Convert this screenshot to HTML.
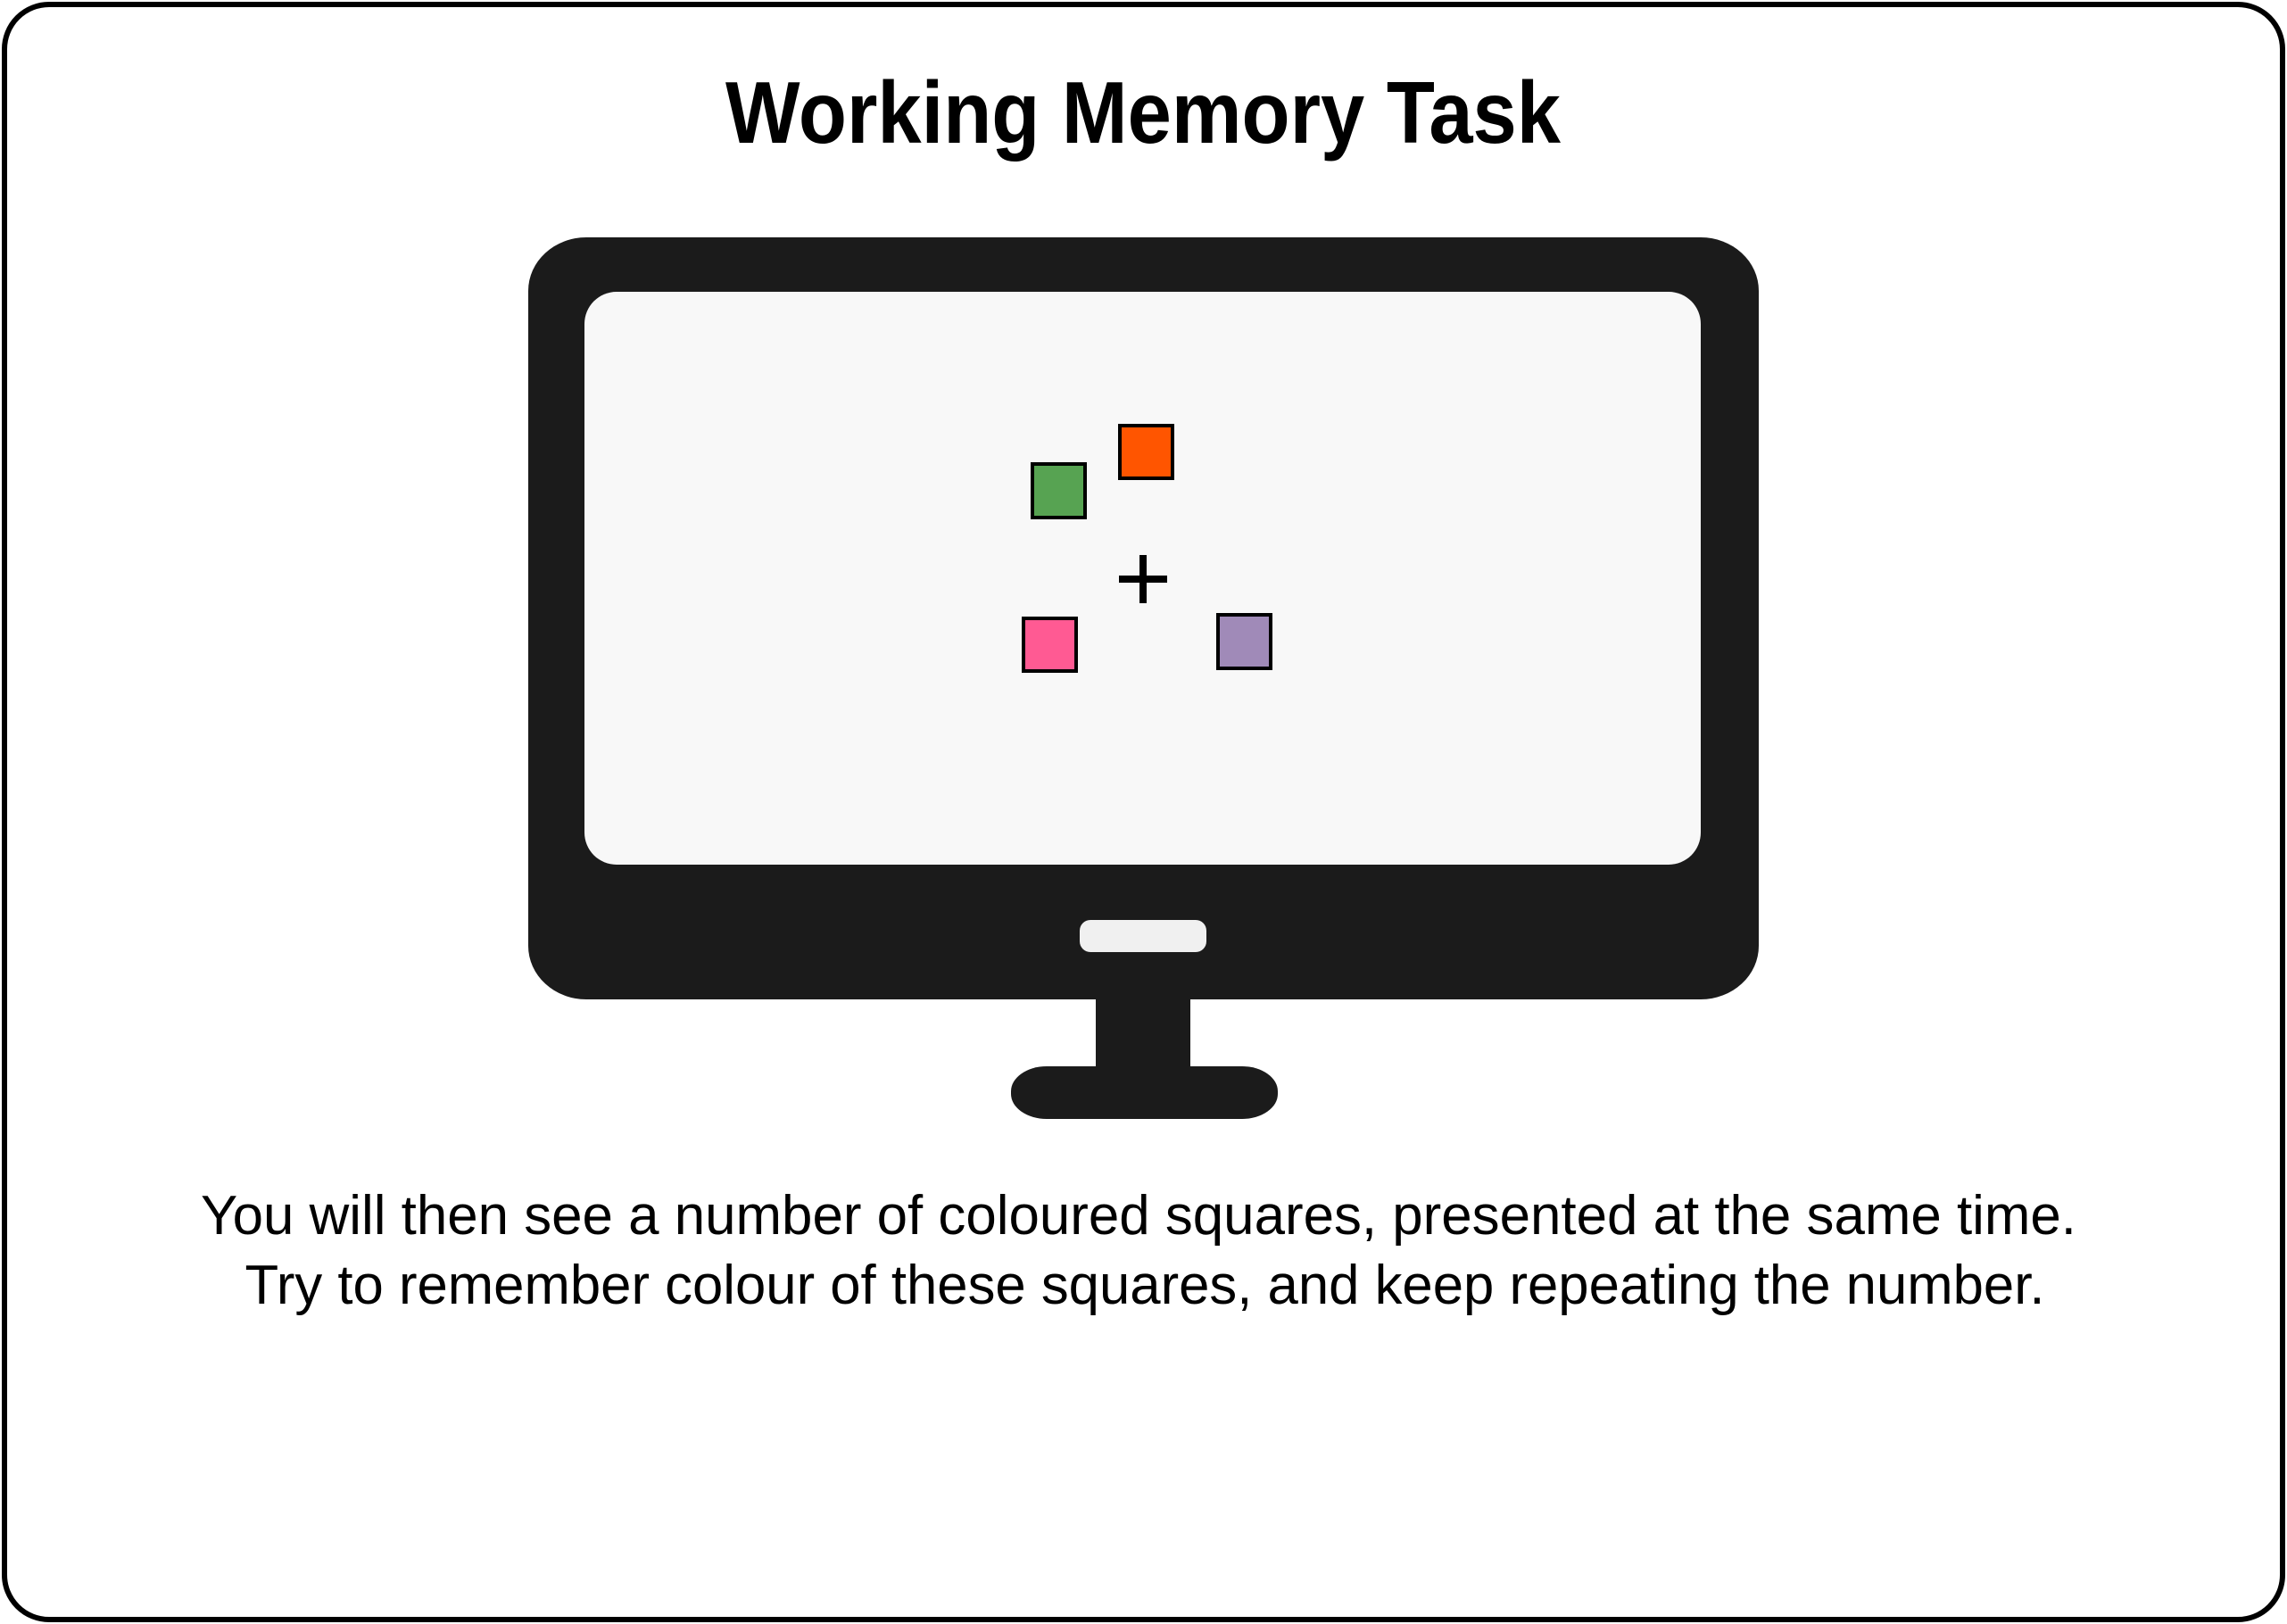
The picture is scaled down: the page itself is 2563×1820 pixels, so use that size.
<!DOCTYPE html>
<html><head><meta charset="utf-8"><style>
html,body{margin:0;padding:0;background:#fff;}
svg{display:block;}
</style></head><body>
<svg width="2563" height="1820" viewBox="0 0 2563 1820" xmlns="http://www.w3.org/2000/svg">
<rect x="5" y="5" width="2553" height="1810" rx="50" ry="50" fill="#fff" stroke="#000" stroke-width="6"/>
<text x="1281" y="160" text-anchor="middle" font-family="Liberation Sans, sans-serif" font-weight="bold" font-size="98" textLength="936" lengthAdjust="spacingAndGlyphs" fill="#000">Working Memory Task</text>
<rect x="592" y="266" width="1379" height="854" rx="65" ry="60" fill="#1b1b1b"/>
<rect x="655" y="327" width="1251" height="642" rx="36" ry="36" fill="#f8f8f8"/>
<rect x="1210" y="1031" width="142" height="36" rx="12" fill="#f0f0f0"/>
<rect x="1228" y="1115" width="106" height="85" fill="#1b1b1b"/>
<rect x="1133" y="1195" width="299" height="59" rx="40" ry="28" fill="#1b1b1b"/>
<rect x="1255" y="477" width="59" height="59" fill="#ff5500" stroke="#000" stroke-width="4"/>
<rect x="1157" y="520" width="59" height="60" fill="#57a352" stroke="#000" stroke-width="4"/>
<rect x="1147" y="693" width="59" height="59" fill="#ff5a93" stroke="#000" stroke-width="4"/>
<rect x="1365" y="689" width="59" height="60" fill="#a08ab8" stroke="#000" stroke-width="4"/>
<path d="M1281 622 V676 M1254 649 H1308" stroke="#000" stroke-width="8"/>
<text x="1276" y="1383" text-anchor="middle" font-family="Liberation Sans, sans-serif" font-size="62" textLength="2102" lengthAdjust="spacingAndGlyphs" fill="#000">You will then see a number of coloured squares, presented at the same time.</text>
<text x="1283" y="1461" text-anchor="middle" font-family="Liberation Sans, sans-serif" font-size="62" textLength="2017" lengthAdjust="spacingAndGlyphs" fill="#000">Try to remember colour of these squares, and keep repeating the number.</text>
</svg>
</body></html>
